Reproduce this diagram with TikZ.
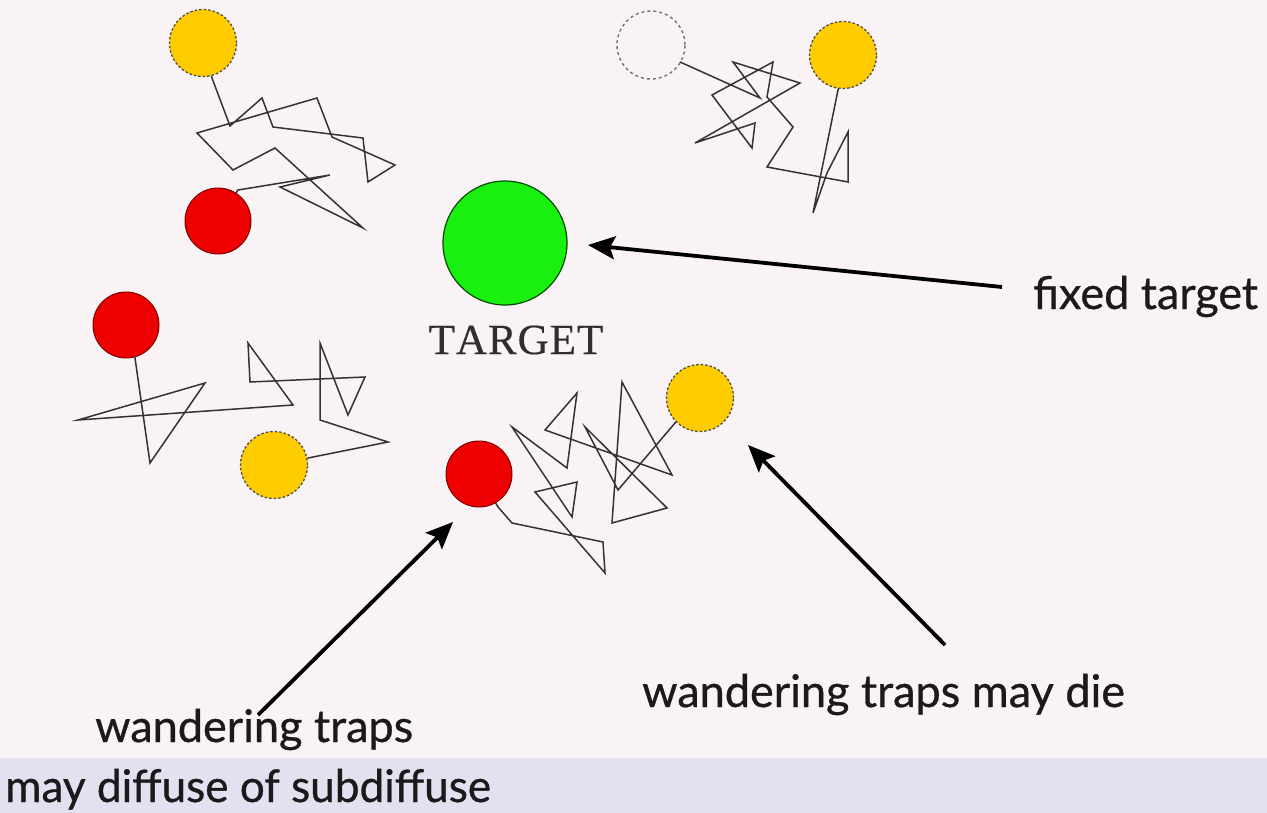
\documentclass[tikz,border=0pt]{standalone}
\usepackage{fontspec}
\setmainfont{Lato}
\newfontfamily\lblfont[FakeBold=0.7]{Lato}
\newfontfamily\serifTimes[FakeBold=0.4]{Liberation Serif}
\usetikzlibrary{arrows.meta,calc}
\definecolor{bgpink}{HTML}{FAF3F5}
\definecolor{band}{HTML}{E3E0F0}
\definecolor{tred}{HTML}{EE0000}
\definecolor{tyellow}{HTML}{FFCC00}
\definecolor{tgreen}{HTML}{1AF010}
\definecolor{walkc}{HTML}{333333}
\definecolor{txt}{HTML}{1A1A1A}
\tikzset{
  redtrap/.style={circle, inner sep=0pt, minimum size=66pt, fill=tred, draw=red!50!black, line width=1pt},
  yeltrap/.style={circle, inner sep=0pt, minimum size=67pt, fill=tyellow, draw=black!70, dash pattern=on 2.5pt off 2pt, line width=1.3pt},
  ghost/.style={circle, inner sep=0pt, minimum size=68pt, draw=black!55, dash pattern=on 3pt off 3pt, line width=1.4pt},
  target/.style={circle, inner sep=0pt, minimum size=124pt, fill=tgreen, draw=green!30!black, line width=1.2pt},
  walk/.style={draw=walkc, line width=1.5pt, line join=miter},
  bigarrow/.style={draw=black, line width=3.8pt, -{Stealth[length=27pt,width=23pt,inset=5pt]}},
  label/.style={font=\fontsize{45pt}{50pt}\lblfont, text=txt, inner sep=0pt, anchor=base west}
}
\begin{document}
\begin{tikzpicture}[x=1pt,y=-1pt]
\useasboundingbox (0,0) rectangle (1267,813);
\fill[bgpink] (0,0) rectangle (1267,813);
\fill[band] (0,758) rectangle (1267,813);

% traps and target
\node[yeltrap] (y1) at (203,43) {};
\node[redtrap] (r1) at (218,221) {};
\node[ghost] (g2) at (651,45) {};
\node[yeltrap] (y2) at (843,55) {};
\node[target] (tg) at (505,243) {};
\node[font=\fontsize{43pt}{46pt}\selectfont\serifTimes, text=black!82, inner sep=0pt] (tlabel) at (516,340) {T\kern1ptA\kern1ptR\kern1ptG\kern1ptE\kern1ptT};
\node[redtrap] (r3) at (126,325) {};
\node[yeltrap] (y3) at (274,465) {};
\node[redtrap] (r4) at (479,474) {};
\node[yeltrap] (y4) at (700,398) {};

% walk 1 (top-left)
\draw[walk] (y1) -- (212,78) -- (230,126) -- (262,98) -- (273,127) -- (363,138) -- (368,182) -- (395,165) -- (332,137) -- (317,98) -- (197,133) -- (233,170) -- (275,148) -- (363,228) -- (280,187) -- (330,175) -- (238,190) -- (r1);

% walk 2 (top-right)
\draw[walk] (g2) -- (680,62) -- (760,98) -- (733,62) -- (800,83) -- (695,143) -- (755,123) -- (752,148) -- (712,95) -- (773,62) -- (767,97) -- (793,127) -- (767,167) -- (848,182) -- (848,132) -- (827,173) -- (813,213) -- (838,90) -- (y2);

% walk 3 (left)
\draw[walk] (r3) -- (135,358) -- (150,463) -- (205,383) -- (78,420) -- (293,405) -- (248,343) -- (250,382) -- (365,377) -- (348,415) -- (320,343) -- (320,420) -- (388,442) -- (308,458) -- (y3);

% walk 4 (bottom-middle)
\draw[walk] (r4) -- (498,507) -- (512,523) -- (603,542) -- (605,573) -- (535,492) -- (577,482) -- (572,517) -- (512,427) -- (567,468) -- (577,393) -- (545,430) -- (672,475) -- (622,382) -- (612,523) -- (667,508) -- (585,427) -- (618,490) -- (675,423) -- (y4);

% labels
\node[label] (ft) at (1033,309) {fixed target};
\node[label] (wd) at (642,707) {wandering traps may die};
\node[label] (wt) at (95,742) {wandering traps};
\node[label] (md) at (5,802) {\scalebox{0.98}[1]{may diffuse of subdiffuse}};

% arrows
\coordinate (a1s) at (1002,287);
\coordinate (a1e) at (588,245);
\coordinate (a2s) at (258,715);
\coordinate (a2e) at (453,522);
\coordinate (a3s) at (945,645);
\coordinate (a3e) at (748,445);
\draw[bigarrow] (a1s) -- (a1e);
\draw[bigarrow] (a2s) -- (a2e);
\draw[bigarrow] (a3s) -- (a3e);
\end{tikzpicture}
\end{document}
